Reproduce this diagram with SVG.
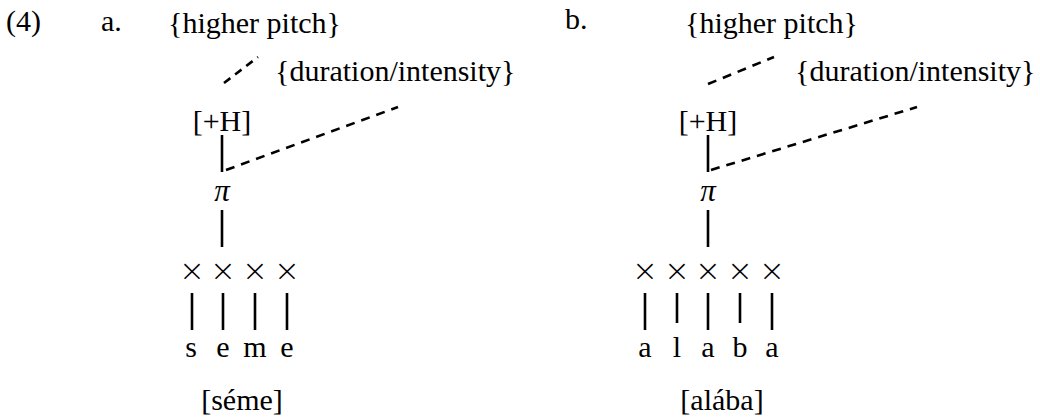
<svg xmlns="http://www.w3.org/2000/svg" width="1040" height="420" viewBox="0 0 1040 420">
<style>
text{font-family:"Liberation Serif","Times New Roman",serif;font-size:30px;fill:#000}
.c{text-anchor:middle}
.pi{font-style:italic;font-size:31px}
.x{font-size:31px;font-family:"DejaVu Sans",sans-serif;font-weight:200}
.s{stroke:#000;stroke-width:2.6;fill:none}
.d{stroke:#000;stroke-width:2.6;fill:none;stroke-dasharray:9 7}
.d2{stroke:#000;stroke-width:2.6;fill:none;stroke-dasharray:8 6}
</style>
<rect width="1040" height="420" fill="#fff"/>
<g id="label-4"><text x="6" y="31">(4)</text></g>
<g id="label-a"><text x="101" y="31">a.</text></g>
<g id="label-b"><text x="565" y="29">b.</text></g>

<g id="a-higher-pitch"><text x="168" y="33">{higher pitch}</text></g>
<g id="a-duration"><text x="275" y="81">{duration/intensity}</text></g>
<g id="a-H"><text x="222" y="131" class="c">[+H]</text></g>
<g id="a-pi"><text x="222" y="201" class="c pi">π</text></g>
<g id="a-x">
<text x="192" y="281" class="c x">×</text>
<text x="223" y="281" class="c x">×</text>
<text x="255" y="281" class="c x">×</text>
<text x="287" y="281" class="c x">×</text>
</g>
<g id="a-segments">
<text x="191" y="357" class="c">s</text>
<text x="223" y="357" class="c">e</text>
<text x="255" y="357" class="c">m</text>
<text x="287" y="357" class="c">e</text>
</g>
<g id="a-gloss"><text x="242" y="410" class="c">[séme]</text></g>

<g id="b-higher-pitch"><text x="685" y="33">{higher pitch}</text></g>
<g id="b-duration"><text x="795" y="81">{duration/intensity}</text></g>
<g id="b-H"><text x="708" y="131" class="c">[+H]</text></g>
<g id="b-pi"><text x="708" y="201" class="c pi">π</text></g>
<g id="b-x">
<text x="645" y="281" class="c x">×</text>
<text x="677" y="281" class="c x">×</text>
<text x="708" y="281" class="c x">×</text>
<text x="740" y="281" class="c x">×</text>
<text x="772" y="281" class="c x">×</text>
</g>
<g id="b-segments">
<text x="645" y="357" class="c">a</text>
<text x="677" y="357" class="c">l</text>
<text x="708" y="357" class="c">a</text>
<text x="740" y="357" class="c">b</text>
<text x="772" y="357" class="c">a</text>
</g>
<g id="b-gloss"><text x="722" y="410" class="c">[alába]</text></g>

<g id="connectors">
<line class="d2" x1="224" y1="83" x2="258" y2="57"/>
<line class="d" x1="226" y1="170" x2="398" y2="107"/>
<line class="s" x1="222" y1="135" x2="222" y2="172"/>
<line class="s" x1="222" y1="210" x2="222" y2="247"/>
<line class="s" x1="192" y1="293" x2="192" y2="330"/>
<line class="s" x1="223" y1="293" x2="223" y2="330"/>
<line class="s" x1="255" y1="293" x2="255" y2="330"/>
<line class="s" x1="287" y1="293" x2="287" y2="330"/>

<line class="d" x1="708" y1="84" x2="774" y2="57"/>
<line class="d" x1="711" y1="170" x2="917" y2="107"/>
<line class="s" x1="708" y1="135" x2="708" y2="172"/>
<line class="s" x1="708" y1="210" x2="708" y2="247"/>
<line class="s" x1="645" y1="293" x2="645" y2="330"/>
<line class="s" x1="677" y1="293" x2="677" y2="323"/>
<line class="s" x1="708" y1="293" x2="708" y2="330"/>
<line class="s" x1="740" y1="293" x2="740" y2="323"/>
<line class="s" x1="772" y1="293" x2="772" y2="330"/>
</g>
</svg>
